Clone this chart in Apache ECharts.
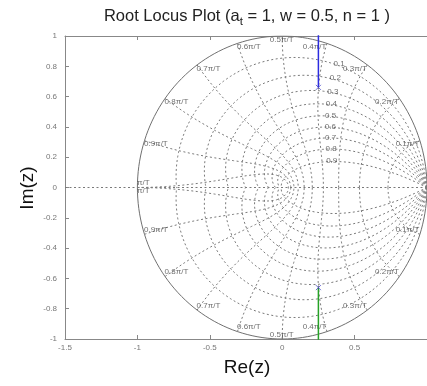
<!DOCTYPE html>
<html lang="en">
<head>
<meta charset="UTF-8">
<title>Root Locus Plot</title>
<script src="https://cdn.jsdelivr.net/npm/echarts@6/dist/echarts.min.js"></script>
<style>
    *{margin:0;padding:0;box-sizing:border-box;}
    html,body{width:427px;height:386px;background:#fff;overflow:hidden;}
    #main{width:427px;height:386px;}
</style>
</head>
<body>
<div id="main"></div>
<script>
// z-plane grid: damping ratios and natural frequencies (fractions of pi/T)
var zetas = [0, 0.1, 0.2, 0.3, 0.4, 0.5, 0.6, 0.7, 0.8, 0.9];
var zetaLabels = ['0.1', '0.2', '0.3', '0.4', '0.5', '0.6', '0.7', '0.8', '0.9'];
var wnFracs = [0.1, 0.2, 0.3, 0.4, 0.5, 0.6, 0.7, 0.8, 0.9, 1];
var wnLabels = ['0.1π/T', '0.2π/T', '0.3π/T', '0.4π/T', '0.5π/T', '0.6π/T', '0.7π/T', '0.8π/T', '0.9π/T', 'π/T'];
// poles and the two locus branches
var poles = [[0.25, 0.661], [0.25, -0.661]];
var branchUp = [[0.25, 0.661], [0.25, 1.2]];
var branchDown = [[0.25, -0.661], [0.25, -1.2]];
var realAxis = [[-1.5, 0], [1, 0]];

var PI = Math.PI;
var labelWn = 0.37 * PI; // where the zeta labels sit along each curve

function zetaCurve(z, sign) {
    var m = z / Math.sqrt(1 - z * z), pts = [];
    for (var i = 0; i <= 90; i++) {
        var t = PI * i / 90, r = Math.exp(-m * t);
        pts.push([r * Math.cos(t), sign * r * Math.sin(t)]);
    }
    return pts;
}
function wnCurve(w, sign) {
    var pts = [];
    for (var i = 0; i <= 45; i++) {
        var p = PI / 2 + PI / 2 * i / 45;
        var r = Math.exp(w * Math.cos(p)), a = w * Math.sin(p);
        pts.push([r * Math.cos(a), sign * r * Math.sin(a)]);
    }
    return pts;
}

var gridStyle = {color: '#7a7a7a', width: 1, type: [2, 2.5]};
var series = [];
zetas.forEach(function (z) {
    [1, -1].forEach(function (s) {
        series.push({
            type: 'line', data: zetaCurve(z, s), showSymbol: false, silent: true,
            lineStyle: z === 0 ? {color: '#707070', width: 1} : gridStyle, z: 1
        });
    });
});
wnFracs.forEach(function (f) {
    [1, -1].forEach(function (s) {
        series.push({type: 'line', data: wnCurve(f * PI, s), showSymbol: false, silent: true, lineStyle: gridStyle, z: 1});
    });
});
series.push({type: 'line', data: realAxis, showSymbol: false, lineStyle: gridStyle, z: 1});

// labels for the grid
var labelData = [];
wnFracs.forEach(function (f, k) {
    var a = f * PI;
    [1, -1].forEach(function (s) {
        var al = f < 0.5 ? 'right' : (f === 0.5 ? 'center' : 'left');
        var va = (s > 0) === (f !== 1) ? 'top' : 'bottom';
        labelData.push({
            value: [Math.cos(a), s * Math.sin(a), wnLabels[k]],
            label: {align: al, verticalAlign: va}
        });
    });
});
zetas.slice(1).forEach(function (z, k) {
    var t = labelWn * Math.sqrt(1 - z * z), r = Math.exp(-z * labelWn);
    labelData.push({
        value: [r * Math.cos(t), r * Math.sin(t), zetaLabels[k]],
        label: {align: 'left', verticalAlign: 'middle'}
    });
});
series.push({
    type: 'scatter', data: labelData, symbolSize: 1, silent: true, z: 3,
    itemStyle: {color: 'rgba(0,0,0,0)'},
    label: {
        show: true, position: [0, 0], fontSize: 8, color: '#4a4a4a',
        fontFamily: 'Liberation Sans, Arial, sans-serif',
        formatter: function (p) { return p.value[2]; }
    }
});

series.push({type: 'line', data: branchUp, showSymbol: false, lineStyle: {color: '#2c2ce0', width: 1.5}, z: 5});
series.push({type: 'line', data: branchDown, showSymbol: false, lineStyle: {color: '#26a226', width: 1.5}, z: 5});
series.push({
    type: 'scatter', data: poles, symbol: 'path://M0 0L8 8M8 0L0 8', symbolSize: 5, z: 6,
    itemStyle: {color: 'none', borderColor: '#4646c8', borderWidth: 1}
});

var axisCommon = {
    type: 'value',
    axisLine: {show: true, onZero: false, lineStyle: {color: '#888', width: 1}},
    axisTick: {show: true, inside: true, length: 4, lineStyle: {color: '#888'}},
    splitLine: {show: false},
    axisLabel: {fontSize: 8, color: '#777', fontFamily: 'Liberation Sans, Arial, sans-serif'}
};

var myChart = echarts.init(document.getElementById('main'));
myChart.setOption({
    animation: false,
    backgroundColor: '#fff',
    grid: {left: 65, top: 36, width: 366, height: 303},
    xAxis: [
        Object.assign({}, axisCommon, {position: 'bottom', min: -1.5, max: 1, interval: 0.5,
            axisLabel: Object.assign({}, axisCommon.axisLabel, {margin: 5, showMaxLabel: false})}),
        Object.assign({}, axisCommon, {position: 'top', min: -1.5, max: 1, interval: 0.5, axisLabel: {show: false}})
    ],
    yAxis: Object.assign({}, axisCommon, {min: -1, max: 1, interval: 0.2,
        axisLabel: Object.assign({}, axisCommon.axisLabel, {margin: 8})}),
    series: series,
    graphic: [
        {type: 'text', x: 247, y: 16, style: {
            text: '{a|Root Locus Plot (a}{s|t}{a| = 1, w = 0.5, n = 1 )}',
            align: 'center', verticalAlign: 'middle',
            rich: {
                a: {fontSize: 16.5, fontFamily: 'Liberation Sans, Arial, sans-serif', fill: '#222', color: '#222'},
                s: {fontSize: 11.5, fontFamily: 'Liberation Sans, Arial, sans-serif', fill: '#222', color: '#222', padding: [12, 0, 0, 0]}
            }
        }},
        {type: 'text', x: 247, y: 368, style: {
            text: 'Re(z)', align: 'center', verticalAlign: 'middle',
            fontSize: 19, fontFamily: 'Liberation Sans, Arial, sans-serif', fill: '#111'
        }},
        {type: 'text', x: 28, y: 188, rotation: Math.PI / 2, style: {
            text: 'Im(z)', align: 'center', verticalAlign: 'middle',
            fontSize: 19, fontFamily: 'Liberation Sans, Arial, sans-serif', fill: '#111'
        }}
    ]
});
window.onresize = myChart.resize;
</script>
</body>
</html>
